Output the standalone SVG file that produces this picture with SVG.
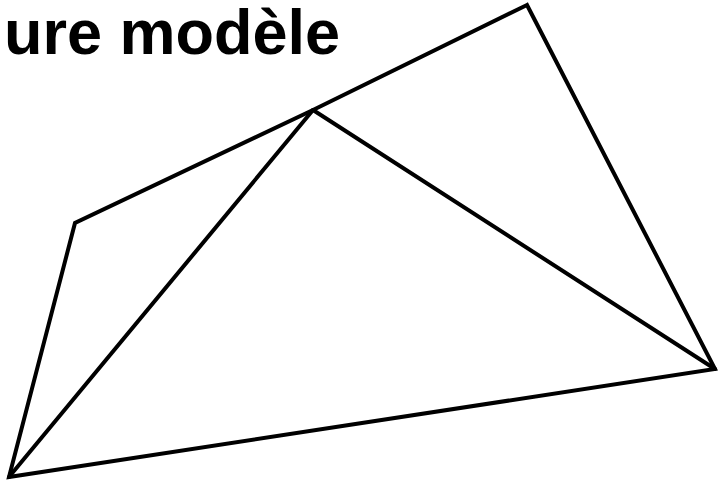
<svg xmlns="http://www.w3.org/2000/svg" width="718" height="485" viewBox="0 0 718 485">
<style>
.t{font-family:"Liberation Sans",Arial,sans-serif;font-weight:bold;font-size:63px;fill:#000}
.e{stroke:#000;stroke-width:4;fill:none;stroke-linejoin:miter;stroke-linecap:round}
</style>
<rect width="718" height="485" fill="#fff"/>
<text id="title" class="t" x="4" y="54">ure modèle</text>
<g id="edges">
<polygon class="e" points="527,5 313,110 75,223 9,477 715,369"/>
<line class="e" x1="313" y1="110" x2="9" y2="477"/>
<line class="e" x1="313" y1="110" x2="715" y2="369"/>
</g>
</svg>
